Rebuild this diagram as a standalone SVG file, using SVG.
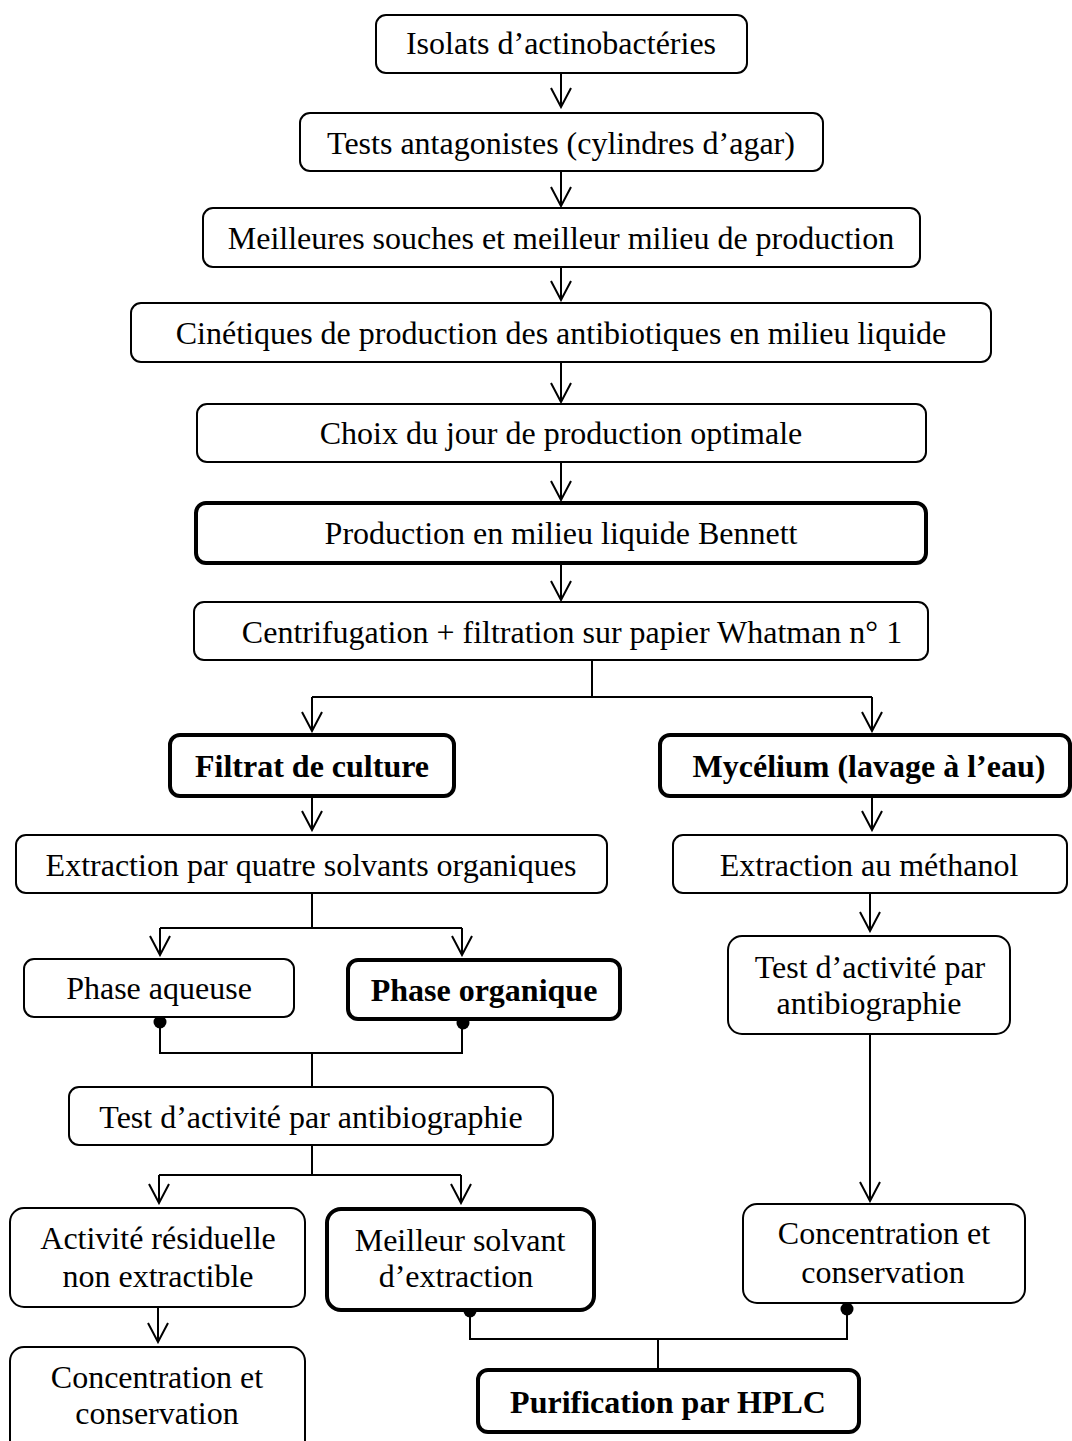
<svg xmlns="http://www.w3.org/2000/svg" width="1072" height="1441" viewBox="0 0 1072 1441">
<style>
.b{fill:#fff;stroke:#000;stroke-width:2}
.k{fill:#fff;stroke:#000;stroke-width:4}
.t{font-family:"Liberation Serif","Times New Roman",serif;font-size:32px;fill:#000;text-anchor:middle}
.tb{font-family:"Liberation Serif","Times New Roman",serif;font-size:32px;font-weight:bold;fill:#000;text-anchor:middle}
.c{fill:none;stroke:#000;stroke-width:2}
.a{marker-end:url(#arr)}
.d{fill:#000}
</style>
<defs>
<marker id="arr" markerUnits="userSpaceOnUse" viewBox="-21 -12 23 24" refX="0" refY="0" markerWidth="23" markerHeight="24" orient="auto">
<path d="M-19,-10 L0,0 L-19,10" fill="none" stroke="#000" stroke-width="2"/>
</marker>
</defs>
<rect width="1072" height="1441" fill="#fff"/>
<g id="connectors">
<path class="c a" d="M561,74 V107"/>
<path class="c a" d="M561,172 V206"/>
<path class="c a" d="M561,268 V300"/>
<path class="c a" d="M561,363 V402"/>
<path class="c a" d="M561,463 V500"/>
<path class="c a" d="M561,565 V600"/>
<path class="c" d="M592,661 V697 M312,697 H872"/>
<path class="c a" d="M312,697 V731"/>
<path class="c a" d="M872,697 V731"/>
<path class="c a" d="M312,797 V830"/>
<path class="c a" d="M872,797 V830"/>
<path class="c" d="M312,894 V928 M160,928 H462"/>
<path class="c a" d="M160,928 V955"/>
<path class="c a" d="M462,928 V955"/>
<path class="c a" d="M870,894 V931"/>
<path class="c" d="M160,1022 V1053 H462 V1022 M312,1053 V1087"/>
<path class="c" d="M312,1145 V1175 M159,1175 H461"/>
<path class="c a" d="M159,1175 V1203"/>
<path class="c a" d="M461,1175 V1203"/>
<path class="c a" d="M870,1035 V1201"/>
<path class="c a" d="M158,1308 V1342"/>
<path class="c" d="M470,1310 V1339 H847 V1309 M658,1339 V1370"/>
<circle class="d" cx="160" cy="1022" r="6.5"/>
<circle class="d" cx="463" cy="1023" r="6.5"/>
<circle class="d" cx="470" cy="1311" r="6.5"/>
<circle class="d" cx="847" cy="1309" r="6.5"/>
</g>
<g id="n1"><rect class="b" x="376" y="15" width="371" height="58" rx="10"/><text class="t" x="561" y="54">Isolats d’actinobactéries</text></g>
<g id="n2"><rect class="b" x="300" y="113" width="523" height="58" rx="10"/><text class="t" x="561" y="154">Tests antagonistes (cylindres d’agar)</text></g>
<g id="n3"><rect class="b" x="203" y="208" width="717" height="59" rx="10"/><text class="t" x="561" y="249">Meilleures souches et meilleur milieu de production</text></g>
<g id="n4"><rect class="b" x="131" y="303" width="860" height="59" rx="10"/><text class="t" x="561" y="344">Cinétiques de production des antibiotiques en milieu liquide</text></g>
<g id="n5"><rect class="b" x="197" y="404" width="729" height="58" rx="10"/><text class="t" x="561" y="444">Choix du jour de production optimale</text></g>
<g id="n6"><rect class="k" x="196" y="503" width="730" height="60" rx="10"/><text class="t" x="561" y="544">Production en milieu liquide Bennett</text></g>
<g id="n7"><rect class="b" x="194" y="602" width="734" height="58" rx="10"/><text class="t" x="572" y="643">Centrifugation + filtration sur papier Whatman n° 1</text></g>
<g id="n8"><rect class="k" x="170" y="735" width="284" height="61" rx="10"/><text class="tb" x="312" y="777">Filtrat de culture</text></g>
<g id="n9"><rect class="k" x="660" y="735" width="410" height="61" rx="10"/><text class="tb" x="869" y="777">Mycélium (lavage à l’eau)</text></g>
<g id="n10"><rect class="b" x="16" y="835" width="591" height="58" rx="10"/><text class="t" x="311" y="876">Extraction par quatre solvants organiques</text></g>
<g id="n11"><rect class="b" x="673" y="835" width="394" height="58" rx="10"/><text class="t" x="869" y="876">Extraction au méthanol</text></g>
<g id="n12"><rect class="b" x="24" y="959" width="270" height="58" rx="10"/><text class="t" x="159" y="999">Phase aqueuse</text></g>
<g id="n13"><rect class="k" x="348" y="960" width="272" height="59" rx="10"/><text class="tb" x="484" y="1001">Phase organique</text></g>
<g id="n14"><rect class="b" x="728" y="936" width="282" height="98" rx="14"/><text class="t" x="870" y="978">Test d’activité par</text><text class="t" x="869" y="1014">antibiographie</text></g>
<g id="n15"><rect class="b" x="69" y="1087" width="484" height="58" rx="10"/><text class="t" x="311" y="1128">Test d’activité par antibiographie</text></g>
<g id="n16"><rect class="b" x="10" y="1208" width="295" height="99" rx="14"/><text class="t" x="158" y="1249">Activité résiduelle</text><text class="t" x="158" y="1287">non extractible</text></g>
<g id="n17"><rect class="k" x="327" y="1209" width="267" height="101" rx="14"/><text class="t" x="460" y="1251">Meilleur solvant</text><text class="t" x="456" y="1287">d’extraction</text></g>
<g id="n18"><rect class="b" x="743" y="1204" width="282" height="99" rx="14"/><text class="t" x="884" y="1244">Concentration et</text><text class="t" x="883" y="1283">conservation</text></g>
<g id="n19"><rect class="b" x="10" y="1347" width="295" height="110" rx="14"/><text class="t" x="157" y="1388">Concentration et</text><text class="t" x="157" y="1424">conservation</text></g>
<g id="n20"><rect class="k" x="478" y="1370" width="381" height="62" rx="10"/><text class="tb" x="668" y="1413">Purification par HPLC</text></g>
</svg>
